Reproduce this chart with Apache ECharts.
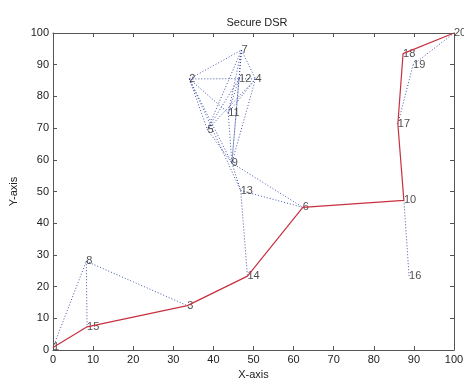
<!DOCTYPE html>
<html>
<head>
<meta charset="utf-8">
<script src="https://cdn.jsdelivr.net/npm/echarts@6/dist/echarts.min.js"></script>
<style>
  html, body { margin: 0; padding: 0; background: #fff; }
  #main { width: 464px; height: 380px; }
</style>
</head>
<body>
<div id="main"></div>
<script>
// node positions, node i is at index i-1
var nodeX = [0, 34, 33.5, 50.5, 38.5, 62.3, 47, 8.3, 44.6, 87.5, 43.7, 46.4, 46.8, 48.5, 8.5, 88.8, 86, 87.3, 89.8, 100];
var nodeY = [0.8, 85.5, 14, 85.5, 69.5, 45, 94.6, 28, 59, 47.2, 74.8, 85.6, 50.3, 23.3, 7.3, 23.3, 71.3, 93.5, 90, 100];

// secure route (red)
var route = [1, 15, 3, 14, 6, 10, 17, 18, 20];

// other links (blue dotted)
var links = [
  [1, 8], [8, 15], [8, 3],
  [2, 7], [2, 12], [2, 5], [2, 11], [2, 9], [2, 13],
  [7, 12], [7, 4], [7, 5], [7, 11], [7, 9],
  [12, 4], [12, 5], [12, 11], [12, 9],
  [4, 11], [4, 5], [4, 9],
  [11, 9], [5, 9], [9, 13], [9, 6], [13, 6], [13, 14],
  [10, 16], [20, 19], [19, 17]
];

var ticks = [0, 10, 20, 30, 40, 50, 60, 70, 80, 90, 100];

function pt(n) { return [nodeX[n - 1], nodeY[n - 1]]; }

var myChart = echarts.init(document.getElementById('main'));

var axisCol = '#555';
var txtCol = '#222';

function makeAxis(pos, isX, showLabel) {
  return {
    type: 'value',
    position: pos,
    min: ticks[0],
    max: ticks[ticks.length - 1],
    interval: 10,
    name: showLabel ? (isX ? 'X-axis' : 'Y-axis') : '',
    nameLocation: 'middle',
    nameGap: isX ? 19 : 28,
    nameTextStyle: { color: txtCol, fontSize: 11, fontFamily: 'Liberation Sans' },
    axisLine: { show: true, onZero: false, lineStyle: { color: axisCol, width: 1 } },
    axisTick: { show: true, inside: true, length: 4, lineStyle: { color: axisCol } },
    axisLabel: {
      show: showLabel,
      color: txtCol,
      fontSize: 11,
      fontFamily: 'Liberation Sans',
      margin: 4
    },
    splitLine: { show: false }
  };
}

var option = {
  backgroundColor: '#fff',
  animation: false,
  title: {
    text: 'Secure DSR',
    left: 252,
    textAlign: 'center',
    top: 12,
    textStyle: { color: txtCol, fontSize: 11, fontWeight: 'normal', fontFamily: 'Liberation Sans' }
  },
  grid: { left: 53, right: 10, top: 33, bottom: 30, outerBoundsMode: 'none', containLabel: false },
  xAxis: [makeAxis('bottom', true, true), makeAxis('top', true, false)],
  yAxis: [makeAxis('left', false, true), makeAxis('right', false, false)],
  series: [
    {
      name: 'links',
      type: 'lines',
      coordinateSystem: 'cartesian2d',
      silent: true,
      lineStyle: { color: '#23389a', width: 1, type: [1, 2], opacity: 0.85 },
      data: links.map(function (l) { return { coords: [pt(l[0]), pt(l[1])] }; })
    },
    {
      name: 'route',
      type: 'line',
      symbol: 'none',
      silent: true,
      lineStyle: { color: '#c8303f', width: 1.2 },
      data: route.map(pt)
    },
    {
      name: 'nodes',
      type: 'scatter',
      symbolSize: 0,
      silent: true,
      label: {
        show: true,
        position: 'right',
        distance: 0,
        color: txtCol,
        fontSize: 11,
        fontFamily: 'Liberation Sans',
        formatter: function (p) { return String(p.dataIndex + 1); }
      },
      data: nodeX.map(function (x, i) { return [x, nodeY[i]]; })
    }
  ]
};

myChart.setOption(option);
</script>
</body>
</html>
